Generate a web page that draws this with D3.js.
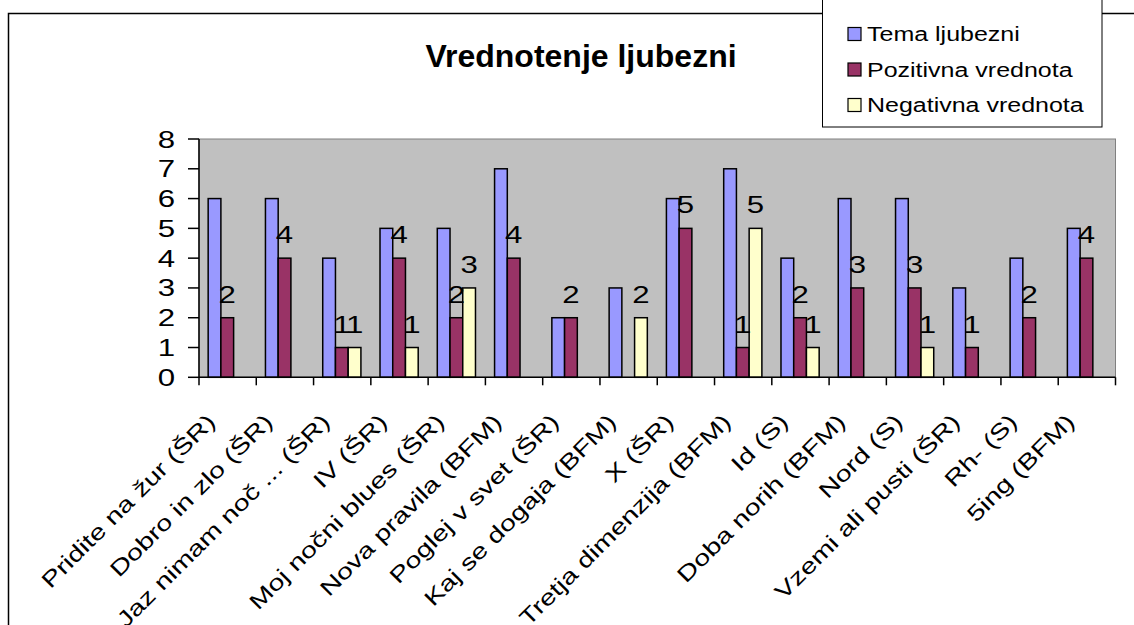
<!DOCTYPE html>
<html>
<head>
<meta charset="utf-8">
<script src="https://cdn.jsdelivr.net/npm/d3@7"></script>
<style>
  body { margin: 0; background: #fff; }
  text { font-family: "Liberation Sans", Arial, sans-serif; fill: #000; }
</style>
</head>
<body>
<div id="chart"></div>
<script>
var categories = ["Pridite na žur (ŠR)", "Dobro in zlo (ŠR)", "Jaz nimam noč ... (ŠR)", "IV (ŠR)",
  "Moj nočni blues (ŠR)", "Nova pravila (BFM)", "Poglej v svet (ŠR)", "Kaj se dogaja (BFM)",
  "X (ŠR)", "Tretja dimenzija (BFM)", "Id (S)", "Doba norih (BFM)", "Nord (S)",
  "Vzemi ali pusti (ŠR)", "Rh- (S)", "5ing (BFM)"];
var seriesNames = ["Tema ljubezni", "Pozitivna vrednota", "Negativna vrednota"];
var tema = [6, 6, 4, 5, 5, 7, 2, 3, 6, 7, 4, 6, 6, 3, 4, 5];
var pozitivna = [2, 4, 1, 4, 2, 4, 2, null, 5, 1, 2, 3, 3, 1, 2, 4];
var negativna = [null, null, 1, 1, 3, null, null, 2, null, 5, 1, null, 1, null, null, null];
var yTicks = [0, 1, 2, 3, 4, 5, 6, 7, 8];
var title = "Vrednotenje ljubezni";

var W = 1134, H = 625;
var margin = {top: 139, left: 199, right: 18.5, bottom: 247.7},
    width = W - margin.left - margin.right,
    height = H - margin.top - margin.bottom;

var color = d3.scaleOrdinal().domain(seriesNames).range(["#9999FF", "#993366", "#FFFFCC"]);

// one row per category, built from the arrays above
var rows = categories.map(function(c, i) {
  return {cat: c, values: [
    {s: seriesNames[0], v: tema[i], label: false},
    {s: seriesNames[1], v: pozitivna[i], label: true},
    {s: seriesNames[2], v: negativna[i], label: true}
  ]};
});

var x0 = d3.scaleBand().domain(categories).range([0, width]).padding(0);
var bw = x0.bandwidth();
var x1 = d3.scaleBand().domain(seriesNames)
    .range([bw * 0.16, bw * 0.16 + bw * 3 / 4.5]).padding(0);
var y = d3.scaleLinear().domain([0, 8]).range([height, 0]);

var svg = d3.select("#chart").append("svg")
    .attr("width", W)
    .attr("height", H);

// chart area border
svg.append("rect")
    .attr("x", 8.5).attr("y", 13.5)
    .attr("width", W + 20).attr("height", H + 20)
    .attr("fill", "#fff").attr("stroke", "#000").attr("stroke-width", 1.5);

svg.append("text")
    .attr("x", 581).attr("y", 66.5)
    .attr("text-anchor", "middle")
    .style("font-size", "32px")
    .style("font-weight", "bold")
    .text(title);

var g = svg.append("g")
    .attr("transform", "translate(" + margin.left + "," + margin.top + ")");

g.append("rect")
    .attr("width", width).attr("height", height)
    .attr("fill", "#C0C0C0").attr("stroke", "#808080").attr("stroke-width", 1);

var groups = g.selectAll(".grp")
    .data(rows)
  .enter().append("g")
    .attr("class", "grp")
    .attr("transform", function(d) { return "translate(" + x0(d.cat) + ",0)"; });

groups.selectAll("rect")
    .data(function(d) { return d.values.filter(function(e) { return e.v != null; }); })
  .enter().append("rect")
    .attr("x", function(d) { return x1(d.s); })
    .attr("y", function(d) { return y(d.v); })
    .attr("width", x1.bandwidth())
    .attr("height", function(d) { return height - y(d.v); })
    .attr("fill", function(d) { return color(d.s); })
    .attr("stroke", "#000")
    .attr("stroke-width", 1.5);

groups.selectAll(".lbl")
    .data(function(d) { return d.values.filter(function(e) { return e.label && e.v != null; }); })
  .enter().append("text")
    .attr("class", "lbl")
    .attr("text-anchor", "middle")
    .attr("transform", function(d) {
      return "translate(" + (x1(d.s) + x1.bandwidth() / 2) + "," + (y(d.v) - 15) + ") scale(1.3,1)";
    })
    .style("font-size", "24px")
    .text(function(d) { return d.v; });

// y axis
var yAxis = g.append("g");
yAxis.append("line")
    .attr("x1", 0).attr("x2", 0).attr("y1", 0).attr("y2", height)
    .attr("stroke", "#000").attr("stroke-width", 1.5);
yAxis.selectAll(".yt")
    .data(yTicks)
  .enter().append("line")
    .attr("x1", -11).attr("x2", 0)
    .attr("y1", function(d) { return y(d); })
    .attr("y2", function(d) { return y(d); })
    .attr("stroke", "#000").attr("stroke-width", 1.5);
yAxis.selectAll(".ytl")
    .data(yTicks)
  .enter().append("text")
    .attr("text-anchor", "end")
    .attr("transform", function(d) { return "translate(-24," + (y(d) + 8.5) + ") scale(1.3,1)"; })
    .style("font-size", "24px")
    .text(function(d) { return d; });

// x axis
var xAxis = g.append("g").attr("transform", "translate(0," + height + ")");
xAxis.append("line")
    .attr("x1", 0).attr("x2", width)
    .attr("stroke", "#000").attr("stroke-width", 1.5);
xAxis.selectAll(".xt")
    .data(d3.range(categories.length + 1))
  .enter().append("line")
    .attr("x1", function(i) { return i * bw; })
    .attr("x2", function(i) { return i * bw; })
    .attr("y1", 0).attr("y2", 8)
    .attr("stroke", "#000").attr("stroke-width", 1.5);
xAxis.selectAll(".xl")
    .data(categories)
  .enter().append("text")
    .attr("text-anchor", "end")
    .attr("transform", function(d) {
      return "translate(" + (x0(d) + bw / 2 - 11) + ",46) rotate(-45) scale(1.3,1)";
    })
    .style("font-size", "22px")
    .text(function(d) { return d; });

// legend
var legend = svg.append("g");
legend.append("rect")
    .attr("x", 822.5).attr("y", -5)
    .attr("width", 279.5).attr("height", 132)
    .attr("fill", "#fff").attr("stroke", "#000").attr("stroke-width", 1);
var li = legend.selectAll(".legend")
    .data(seriesNames)
  .enter().append("g")
    .attr("class", "legend")
    .attr("transform", function(d, i) { return "translate(848," + (34 + i * 35.5) + ")"; });
li.append("rect")
    .attr("x", 0).attr("y", -6.5)
    .attr("width", 13).attr("height", 13)
    .attr("fill", color)
    .attr("stroke", "#000").attr("stroke-width", 1.2);
li.append("text")
    .attr("transform", "translate(19,7) scale(1.25,1)")
    .style("font-size", "20px")
    .text(function(d) { return d; });
</script>
</body>
</html>
